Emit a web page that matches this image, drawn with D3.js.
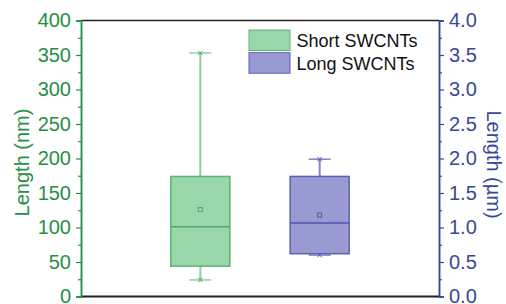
<!DOCTYPE html>
<html>
<head>
<meta charset="utf-8">
<script src="https://cdn.jsdelivr.net/npm/d3@7"></script>
<style>
  body { margin: 0; background: #fff; }
  svg { font-family: Arial, "Liberation Sans", sans-serif; }
</style>
</head>
<body>
<div id="chart"></div>
<script>
// Data
const categories = ["Short SWCNTs", "Long SWCNTs"]
// [min, q1, median, q3, max, mean]; short in nm (left axis), long in µm (right axis)
const shortStats = [24, 44, 101, 174, 353, 126]
const longStats = [0.60, 0.62, 1.065, 1.74, 1.99, 1.18]
const leftTicks = [0, 50, 100, 150, 200, 250, 300, 350, 400]
const rightTicks = [0, 0.5, 1.0, 1.5, 2.0, 2.5, 3.0, 3.5, 4.0]

const green = "#278e45"
const blue = "#3a4799"
const styles = [
  { fill: "#99d6aa", stroke: "#5db370", whisker: "#8fcf9f", dark: "#4fa865" },
  { fill: "#9a9ad2", stroke: "#5a60b5", whisker: "#7f84c6", dark: "#4e55ad" }
]

// Dimensions
const dimensions = {
  width: 506,
  height: 304,
  margin: { top: 20.5, right: 67, bottom: 7.5, left: 81 }
}
dimensions.boundedWidth = dimensions.width - dimensions.margin.left - dimensions.margin.right
dimensions.boundedHeight = dimensions.height - dimensions.margin.top - dimensions.margin.bottom

const wrapper = d3.select("#chart")
  .append("svg")
  .attr("width", dimensions.width)
  .attr("height", dimensions.height)

const bounds = wrapper.append("g")
  .attr("transform", `translate(${dimensions.margin.left},${dimensions.margin.top})`)

// Scales
const xScale = d3.scalePoint()
  .domain(categories)
  .range([0, dimensions.boundedWidth])
  .padding(1)

const yLeft = d3.scaleLinear()
  .domain([0, 400])
  .range([dimensions.boundedHeight, 0])

const yRight = d3.scaleLinear()
  .domain([0, 4])
  .range([dimensions.boundedHeight, 0])

// Frame: top and bottom black lines
bounds.append("line")
  .attr("x1", 0).attr("x2", dimensions.boundedWidth)
  .attr("y1", 0).attr("y2", 0)
  .attr("stroke", "#222").attr("stroke-width", 1.5)
bounds.append("line")
  .attr("x1", 0).attr("x2", dimensions.boundedWidth)
  .attr("y1", dimensions.boundedHeight).attr("y2", dimensions.boundedHeight)
  .attr("stroke", "#222").attr("stroke-width", 2)

// Boxes
const boxWidth = 59
const capWidth = 22
const series = [
  { name: categories[0], stats: shortStats, y: yLeft, style: styles[0] },
  { name: categories[1], stats: longStats, y: yRight, style: styles[1] }
]

series.forEach(s => {
  const cx = xScale(s.name)
  const [mn, q1, med, q3, mx, mean] = s.stats
  const y = s.y
  const g = bounds.append("g")

  // whiskers
  g.append("line")
    .attr("x1", cx).attr("x2", cx)
    .attr("y1", y(q3)).attr("y2", y(mx))
    .attr("stroke", s.style.whisker).attr("stroke-width", 2)
  g.append("line")
    .attr("x1", cx).attr("x2", cx)
    .attr("y1", y(q1)).attr("y2", y(mn))
    .attr("stroke", s.style.whisker).attr("stroke-width", 2)
  ;[mn, mx].forEach(v => {
    g.append("line")
      .attr("x1", cx - capWidth / 2).attr("x2", cx + capWidth / 2)
      .attr("y1", y(v)).attr("y2", y(v))
      .attr("stroke", s.style.whisker).attr("stroke-width", 1.5)
    g.append("path")
      .attr("d", d3.symbol(d3.symbolX, 14)())
      .attr("transform", `translate(${cx},${y(v)})`)
      .attr("fill", "none")
      .attr("stroke", s.style.dark).attr("stroke-width", 1)
  })

  // box
  g.append("rect")
    .attr("x", cx - boxWidth / 2)
    .attr("y", y(q3))
    .attr("width", boxWidth)
    .attr("height", y(q1) - y(q3))
    .attr("fill", s.style.fill)
    .attr("stroke", s.style.stroke)
    .attr("stroke-width", 1.5)

  // median
  g.append("line")
    .attr("x1", cx - boxWidth / 2).attr("x2", cx + boxWidth / 2)
    .attr("y1", y(med)).attr("y2", y(med))
    .attr("stroke", s.style.dark).attr("stroke-width", 1.5)

  // mean
  g.append("rect")
    .attr("x", cx - 2).attr("y", y(mean) - 2)
    .attr("width", 4).attr("height", 4)
    .attr("fill", "none")
    .attr("stroke", s.style.dark).attr("stroke-width", 1)
})

// Axes
const fontSize = 20

const leftAxis = bounds.append("g")
  .call(d3.axisLeft(yLeft).tickValues(leftTicks).tickFormat(d3.format("d")).tickSize(5).tickPadding(5))
const leftMinor = bounds.append("g")
  .call(d3.axisLeft(yLeft).tickValues(d3.range(25, 400, 50)).tickFormat("").tickSize(3))

const rightAxis = bounds.append("g")
  .attr("transform", `translate(${dimensions.boundedWidth},0)`)
  .call(d3.axisRight(yRight).tickValues(rightTicks).tickFormat(d3.format(".1f")).tickSize(5).tickPadding(5))
const rightMinor = bounds.append("g")
  .attr("transform", `translate(${dimensions.boundedWidth},0)`)
  .call(d3.axisRight(yRight).tickValues(d3.range(0.25, 4, 0.5)).tickFormat("").tickSize(3))

;[[leftAxis, green], [leftMinor, green], [rightAxis, blue], [rightMinor, blue]].forEach(([ax, c]) => {
  ax.select(".domain").attr("stroke", c).attr("stroke-width", 1.5)
  ax.selectAll(".tick line").attr("stroke", c).attr("stroke-width", 1.2)
  ax.selectAll(".tick text")
    .attr("fill", c)
    .style("font-size", fontSize + "px")
    .style("font-family", "Arial, 'Liberation Sans', sans-serif")
})

// Axis titles
wrapper.append("text")
  .attr("transform", `translate(29,${dimensions.margin.top + dimensions.boundedHeight / 2 + 4}) rotate(-90)`)
  .attr("text-anchor", "middle")
  .attr("fill", green)
  .style("font-size", "20px")
  .text("Length (nm)")

wrapper.append("text")
  .attr("transform", `translate(487,${dimensions.margin.top + dimensions.boundedHeight / 2 + 6}) rotate(90)`)
  .attr("text-anchor", "middle")
  .attr("fill", blue)
  .style("font-size", "20px")
  .text("Length (µm)")

// Legend
const legend = wrapper.append("g")
  .attr("transform", "translate(249,30)")

categories.forEach((name, i) => {
  const row = legend.append("g")
    .attr("transform", `translate(0,${i * 22.7})`)
  row.append("rect")
    .attr("width", 41).attr("height", 20.5)
    .attr("fill", styles[i].fill)
    .attr("stroke", styles[i].stroke)
    .attr("stroke-width", 1)
  row.append("text")
    .attr("x", 47.5).attr("y", 17)
    .attr("fill", "#111")
    .style("font-size", "18px")
    .text(name)
})
</script>
</body>
</html>
